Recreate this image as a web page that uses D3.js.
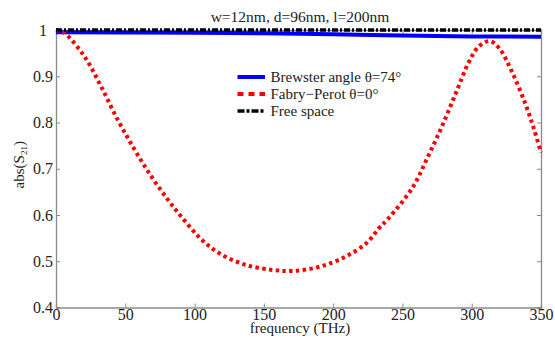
<!DOCTYPE html>
<html>
<head>
<meta charset="utf-8">
<script src="https://cdn.jsdelivr.net/npm/d3@7/dist/d3.min.js"></script>
<style>
  body { margin: 0; background: #fff; }
  text { font-family: "Liberation Serif", "Times New Roman", serif; fill: #222; }
</style>
</head>
<body>
<div id="chart"></div>
<script>
// frequency (THz)
const fp_freq = [0, 5, 20, 32, 44, 56, 68, 80, 90, 104, 118, 137, 157, 171, 190, 209, 224, 233, 240, 257, 269, 279, 289, 298, 305, 313, 320, 329, 339, 345, 350]
const fp_vals = [1.0, 0.996, 0.945, 0.881, 0.809, 0.745, 0.687, 0.636, 0.598, 0.550, 0.517, 0.492, 0.481, 0.479, 0.488, 0.510, 0.539, 0.571, 0.593, 0.658, 0.730, 0.795, 0.867, 0.931, 0.964, 0.976, 0.960, 0.910, 0.838, 0.785, 0.735]

const bw_freq = [0, 50, 100, 150, 200, 250, 300, 350]
const bw_vals = [0.995, 0.9948, 0.9943, 0.993, 0.991, 0.988, 0.986, 0.9855]

const fs_freq = [0, 350]
const fs_vals = [1, 1]

const x_ticks = [0, 50, 100, 150, 200, 250, 300, 350]
const y_ticks = [0.4, 0.5, 0.6, 0.7, 0.8, 0.9, 1]

init()

function init(){
    const W = 555, H = 340
    const m = {left: 56, right: 14, top: 30, bottom: 32.5}

    let svg = d3.select('#chart')
                .append('svg')
                .attr('width', W)
                .attr('height', H)

    let x = d3.scaleLinear().domain([0, 350]).range([m.left, W - m.right])
    let y = d3.scaleLinear().domain([0.4, 1]).range([H - m.bottom, m.top])

    const axisCol = '#8a8a8a'
    const serif = '"Liberation Serif", "Times New Roman", serif'

    // axes with inward ticks on all four sides
    let gx = svg.append('g')
        .attr('transform', `translate(0,${H - m.bottom})`)
        .call(d3.axisBottom(x).tickValues(x_ticks).tickSize(-4).tickPadding(1.5).tickFormat(d3.format('d')))
    svg.append('g')
        .attr('transform', `translate(0,${m.top})`)
        .call(d3.axisTop(x).tickValues(x_ticks).tickSize(-4).tickFormat(''))
    let gy = svg.append('g')
        .attr('transform', `translate(${m.left},0)`)
        .call(d3.axisLeft(y).tickValues(y_ticks).tickSize(-4).tickFormat(d => d === 1 ? '1' : d3.format('.1f')(d)))
    svg.append('g')
        .attr('transform', `translate(${W - m.right},0)`)
        .call(d3.axisRight(y).tickValues(y_ticks).tickSize(-4).tickFormat(''))

    // labels centred under / beside the tick, as in the original figure
    gy.selectAll('.tick text').attr('x', -13).attr('text-anchor', 'middle')

    svg.selectAll('g').attr('font-family', serif).attr('font-size', 16)
    svg.selectAll('.domain').style('stroke', axisCol).style('stroke-width', 1.3)
    svg.selectAll('.tick line').style('stroke', axisCol)
    svg.selectAll('.tick text').style('fill', '#222')

    let line = d3.line().x(d => x(d[0])).y(d => y(d[1]))
    let curve = d3.line().x(d => x(d[0])).y(d => y(d[1])).curve(d3.curveMonotoneX)

    // Brewster
    svg.append('path')
        .datum(d3.zip(bw_freq, bw_vals))
        .attr('d', curve)
        .style('fill', 'none')
        .style('stroke', '#0000ff')
        .style('stroke-width', 4)

    // Fabry-Perot
    svg.append('path')
        .datum(d3.zip(fp_freq, fp_vals))
        .attr('d', d3.line().x(d => x(d[0])).y(d => y(d[1])).curve(d3.curveCatmullRom))
        .style('fill', 'none')
        .style('stroke', '#ff0000')
        .style('stroke-width', 4)
        .style('stroke-dasharray', '3.4,3.4')

    // free space
    svg.append('path')
        .datum(d3.zip(fs_freq, fs_vals))
        .attr('d', line)
        .style('fill', 'none')
        .style('stroke', '#000')
        .style('stroke-width', 3.5)
        .style('stroke-dasharray', '6,2,2,2')

    // title
    svg.append('text')
        .attr('x', 300)
        .attr('y', 22)
        .attr('text-anchor', 'middle')
        .style('font-size', '15.5px')
        .text('w=12nm, d=96nm, l=200nm')

    svg.append('text')
        .attr('x', 300)
        .attr('y', 333)
        .attr('text-anchor', 'middle')
        .style('font-size', '15px')
        .text('frequency (THz)')

    let yl = svg.append('text')
        .attr('transform', `translate(24,${(m.top + H - m.bottom) / 2 - 4}) rotate(-90)`)
        .attr('text-anchor', 'middle')
        .style('font-size', '15px')
    yl.append('tspan').text('abs(S')
    yl.append('tspan').attr('dy', 3).style('font-size', '9px').text('21')
    yl.append('tspan').attr('dy', -3).text(')')

    // legend
    const legend = [
        {label: 'Brewster angle \u03b8=74\u00b0', color: '#0000ff', w: 4, dash: null},
        {label: 'Fabry\u2212Perot \u03b8=0\u00b0', color: '#ff0000', w: 4, dash: '6,5'},
        {label: 'Free space', color: '#000', w: 3.5, dash: '7,2,3,2'}
    ]
    let lg = svg.append('g')
    legend.forEach((d, i) => {
        const ly = 77 + i * 17
        lg.append('line')
            .attr('x1', 237.5).attr('x2', 265)
            .attr('y1', ly).attr('y2', ly)
            .style('stroke', d.color)
            .style('stroke-width', d.w)
            .style('stroke-dasharray', d.dash)
        lg.append('text')
            .attr('x', 270.5)
            .attr('y', ly + 5)
            .attr('font-family', serif)
            .attr('font-size', 15)
            .text(d.label)
    })
}
</script>
</body>
</html>
